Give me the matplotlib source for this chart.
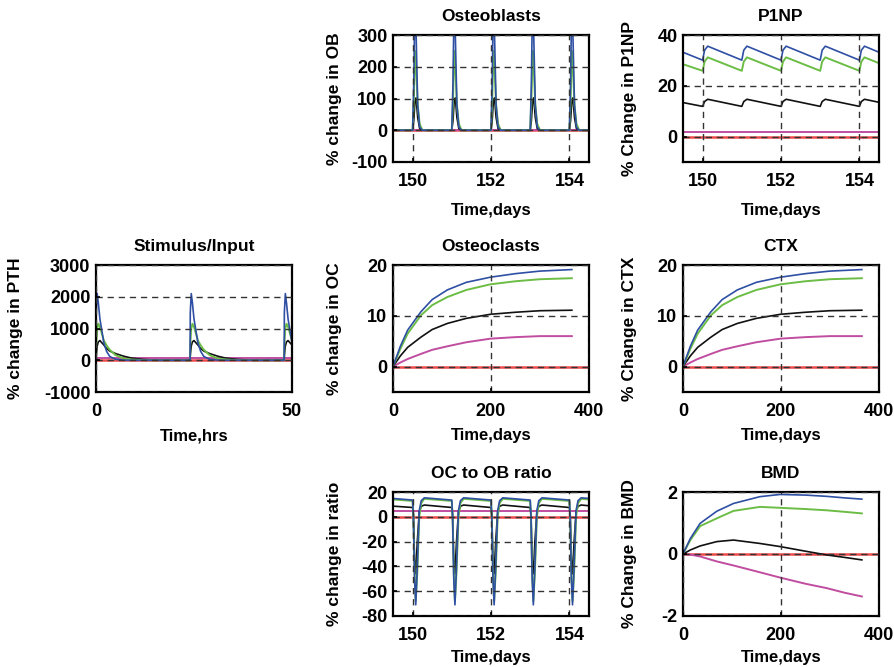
import matplotlib
matplotlib.use('Agg')
import matplotlib.pyplot as plt
import numpy as np

plt.rcParams['font.family'] = ['Liberation Sans', 'DejaVu Sans']
plt.rcParams['font.weight'] = 'bold'
plt.rcParams['font.size'] = 12
plt.rcParams['axes.unicode_minus'] = False

blue = '#2e4fa3'
green = '#6cbd45'
black = '#111111'
magenta = '#c04da0'
red = '#ec4a4a'

# ---- Stimulus/Input (hours) ----
stim_t = [0, 0.05, 0.3, 0.6, 1, 2, 2.7, 3.5, 5, 7, 9, 12, 16, 20, 23.95,
          24, 24.05, 24.3, 24.6, 25, 26, 26.7, 27.5, 29, 31, 33, 36, 40, 44, 47.95,
          48, 48.05, 48.3, 48.6, 49, 50]
stim_blue = [0, 1500, 2100, 1800, 1300, 550, 280, 120, 30, 5, 0, 0, 0, 0, 0,
             0, 1500, 2100, 1800, 1300, 550, 280, 120, 30, 5, 0, 0, 0, 0, 0,
             0, 1500, 2100, 1800, 1300, 550]
stim_green = [0, 500, 1000, 1150, 1050, 620, 470, 330, 160, 60, 25, 5, 0, 0, 0,
              0, 500, 1000, 1150, 1050, 620, 470, 330, 160, 60, 25, 5, 0, 0, 0,
              0, 500, 1000, 1150, 1050, 620]
stim_black = [0, 150, 450, 580, 620, 480, 370, 290, 210, 130, 70, 25, 0, 0, 0,
              0, 150, 450, 580, 620, 480, 370, 290, 210, 130, 70, 25, 0, 0, 0,
              0, 150, 450, 580, 620, 480]
stim_mag_t = [0, 50]
stim_mag = [80, 80]

# ---- Osteoblasts (days 149.5-154.5) ----
ob_t = [149.5,
        150.00, 150.03, 150.06, 150.09, 150.13, 150.18, 150.25,
        151.00, 151.03, 151.06, 151.09, 151.13, 151.18, 151.25,
        152.00, 152.03, 152.06, 152.09, 152.13, 152.18, 152.25,
        153.00, 153.03, 153.06, 153.09, 153.13, 153.18, 153.25,
        154.00, 154.03, 154.06, 154.09, 154.13, 154.18, 154.25,
        154.5]
ob_blue = [0,
           0, 150, 420, 300, 80, 10, 0,
           0, 150, 420, 300, 80, 10, 0,
           0, 150, 420, 300, 80, 10, 0,
           0, 150, 420, 300, 80, 10, 0,
           0, 150, 420, 300, 80, 10, 0,
           0]
ob_green = [0,
            0, 90, 250, 200, 80, 20, 0,
            0, 90, 250, 200, 80, 20, 0,
            0, 90, 250, 200, 80, 20, 0,
            0, 90, 250, 200, 80, 20, 0,
            0, 90, 250, 200, 80, 20, 0,
            0]
ob_black = [0,
            0, 30, 90, 102, 40, 5, 0,
            0, 30, 90, 102, 40, 5, 0,
            0, 30, 90, 102, 40, 5, 0,
            0, 30, 90, 102, 40, 5, 0,
            0, 30, 90, 102, 40, 5, 0,
            0]
ob_mag_t = [149.5, 154.5]
ob_mag = [2, 2]

# ---- P1NP ----
p1np_t = [149.5,
          150.0, 150.05, 150.13,
          151.0, 151.05, 151.13,
          152.0, 152.05, 152.13,
          153.0, 153.05, 153.13,
          154.0, 154.05, 154.13,
          154.5]
p1np_blue = [33.2, 30.1, 34.0, 35.6, 30.1, 34.0, 35.6, 30.1, 34.0, 35.6,
             30.1, 34.0, 35.6, 30.1, 34.0, 35.6, 33.2]
p1np_green = [28.5, 25.9, 29.5, 31.2, 25.9, 29.5, 31.2, 25.9, 29.5, 31.2,
              25.9, 29.5, 31.2, 25.9, 29.5, 31.2, 28.9]
p1np_black = [13.4, 11.9, 13.8, 14.7, 11.9, 13.8, 14.7, 11.9, 13.8, 14.7,
              11.9, 13.8, 14.7, 11.9, 13.8, 14.7, 13.5]
p1np_mag_t = [149.5, 154.5]
p1np_mag = [1.7, 1.7]

# ---- Osteoclasts / CTX (days 0-365) ----
long_t = [0, 15, 30, 57, 80, 111, 150, 199, 250, 300, 365]
oc_blue = [0, 4.0, 7.2, 10.8, 13.2, 15.1, 16.6, 17.6, 18.3, 18.8, 19.1]
oc_green = [0, 3.5, 6.5, 10.1, 12.1, 13.7, 15.1, 16.2, 16.8, 17.2, 17.4]
oc_black = [0, 2.1, 3.8, 5.8, 7.3, 8.5, 9.5, 10.3, 10.7, 11.0, 11.1]
oc_mag = [0, 0.8, 1.5, 2.5, 3.3, 4.0, 4.8, 5.5, 5.8, 6.0, 6.0]

ctx_blue = [0, 4.0, 7.2, 10.8, 13.2, 15.1, 16.6, 17.6, 18.3, 18.8, 19.1]
ctx_green = [0, 3.5, 6.5, 10.1, 12.1, 13.7, 15.1, 16.2, 16.8, 17.2, 17.4]
ctx_black = [0, 2.1, 3.8, 5.8, 7.3, 8.5, 9.5, 10.3, 10.7, 11.0, 11.1]
ctx_mag = [0, 0.8, 1.5, 2.5, 3.3, 4.0, 4.8, 5.5, 5.8, 6.0, 6.0]

# ---- OC to OB ratio ----
ratio_t = [149.5,
           150.00, 150.02, 150.05, 150.08, 150.12, 150.17, 150.22, 150.30,
           151.00, 151.02, 151.05, 151.08, 151.12, 151.17, 151.22, 151.30,
           152.00, 152.02, 152.05, 152.08, 152.12, 152.17, 152.22, 152.30,
           153.00, 153.02, 153.05, 153.08, 153.12, 153.17, 153.22, 153.30,
           154.00, 154.02, 154.05, 154.08, 154.12, 154.17, 154.22, 154.30,
           154.5]
ratio_blue = [14.8,
              13.5, 0, -50, -71, -40, 5, 13, 15.3,
              13.5, 0, -50, -71, -40, 5, 13, 15.3,
              13.5, 0, -50, -71, -40, 5, 13, 15.3,
              13.5, 0, -50, -71, -40, 5, 13, 15.3,
              13.5, 0, -50, -71, -40, 5, 13, 15.3,
              14.8]
ratio_green = [14.0,
               12.8, 0, -45, -68, -45, 0, 11, 14.5,
               12.8, 0, -45, -68, -45, 0, 11, 14.5,
               12.8, 0, -45, -68, -45, 0, 11, 14.5,
               12.8, 0, -45, -68, -45, 0, 11, 14.5,
               12.8, 0, -45, -68, -45, 0, 11, 14.5,
               14.0]
ratio_black = [8.6,
               7.5, 2, -35, -46, -20, 4, 8.5, 9.5,
               7.5, 2, -35, -46, -20, 4, 8.5, 9.5,
               7.5, 2, -35, -46, -20, 4, 8.5, 9.5,
               7.5, 2, -35, -46, -20, 4, 8.5, 9.5,
               7.5, 2, -35, -46, -20, 4, 8.5, 9.5,
               8.9]
ratio_mag_t = [149.5, 154.5]
ratio_mag = [4.3, 4.3]

# ---- BMD ----
bmd_t = [0, 15, 35, 69, 103, 157, 198, 250, 293, 330, 365]
bmd_blue = [0, 0.5, 0.99, 1.38, 1.63, 1.85, 1.92, 1.90, 1.86, 1.81, 1.77]
bmd_green = [0, 0.45, 0.9, 1.15, 1.39, 1.52, 1.49, 1.45, 1.41, 1.36, 1.31]
bmd_black = [0, 0.13, 0.26, 0.40, 0.45, 0.34, 0.24, 0.09, -0.03, -0.11, -0.19]
bmd_mag = [0, -0.02, -0.08, -0.24, -0.37, -0.59, -0.76, -0.96, -1.10, -1.25, -1.37]


fig = plt.figure(figsize=(8.94, 6.67), dpi=100)

cols = [96 / 894, 393 / 894, 683 / 894]
w = 196 / 894
rows = [(1 - 162 / 667, 127 / 667), (1 - 392 / 667, 127 / 667), (1 - 616 / 667, 124 / 667)]


def make_ax(r, c, title, ylab, xlab, xlim, ylim, xticks, yticks, ylab_x, xlabpad):
    ax = fig.add_axes([cols[c], rows[r][0], w, rows[r][1]])
    ax.set_xlim(xlim)
    ax.set_ylim(ylim)
    ax.set_xticks(xticks)
    ax.set_yticks(yticks)
    ax.set_title(title, fontweight='bold', fontsize=12.5, pad=10)
    ax.set_xlabel(xlab, fontweight='bold', fontsize=12, labelpad=xlabpad)
    ax.set_ylabel(ylab, fontweight='bold', fontsize=12.5)
    ax.yaxis.set_label_coords(ylab_x, 0.5)
    ax.tick_params(direction='in', length=3, width=1.2, labelsize=13)
    ax.tick_params(axis='x', pad=8)
    ax.tick_params(axis='y', pad=4)
    for s in ax.spines.values():
        s.set_linewidth(1.6)
    ax.set_axisbelow(False)
    ax.grid(True, color='#333333', linestyle=(0, (4.5, 3.5)), linewidth=1.0)
    return ax


def draw(ax, t, b, g, k, mt, m):
    ax.axhline(0, color=red, lw=1.8, zorder=1.5)
    ax.plot(mt, m, color=magenta, lw=1.4)
    ax.plot(t, k, color=black, lw=1.2)
    ax.plot(t, g, color=green, lw=1.4)
    ax.plot(t, b, color=blue, lw=1.2)


# Osteoblasts
ax = make_ax(0, 1, 'Osteoblasts', '% change in OB', 'Time,days', (149.5, 154.5), (-100, 300),
             [150, 152, 154], [-100, 0, 100, 200, 300], -0.262, 9)
draw(ax, ob_t, ob_blue, ob_green, ob_black, ob_mag_t, ob_mag)

# P1NP
ax = make_ax(0, 2, 'P1NP', '% Change in P1NP', 'Time,days', (149.5, 154.5), (-10, 40),
             [150, 152, 154], [0, 20, 40], -0.236, 9)
draw(ax, p1np_t, p1np_blue, p1np_green, p1np_black, p1np_mag_t, p1np_mag)

# Stimulus
ax = make_ax(1, 0, 'Stimulus/Input', '% change in PTH', 'Time,hrs', (0, 50), (-1000, 3000),
             [0, 50], [-1000, 0, 1000, 2000, 3000], -0.371, 6)
draw(ax, stim_t, stim_blue, stim_green, stim_black, stim_mag_t, stim_mag)

# Osteoclasts
ax = make_ax(1, 1, 'Osteoclasts', '% change in OC', 'Time,days', (0, 400), (-5, 20),
             [0, 200, 400], [0, 10, 20], -0.262, 6)
draw(ax, long_t, oc_blue, oc_green, oc_black, long_t, oc_mag)

# CTX
ax = make_ax(1, 2, 'CTX', '% Change in CTX', 'Time,days', (0, 400), (-5, 20),
             [0, 200, 400], [0, 10, 20], -0.236, 6)
draw(ax, long_t, ctx_blue, ctx_green, ctx_black, long_t, ctx_mag)

# OC to OB ratio
ax = make_ax(2, 1, 'OC to OB ratio', '% change in ratio', 'Time,days', (149.5, 154.5), (-80, 20),
             [150, 152, 154], [-80, -60, -40, -20, 0, 20], -0.262, 4)
draw(ax, ratio_t, ratio_blue, ratio_green, ratio_black, ratio_mag_t, ratio_mag)

# BMD
ax = make_ax(2, 2, 'BMD', '% Change in BMD', 'Time,days', (0, 400), (-2, 2),
             [0, 200, 400], [-2, 0, 2], -0.236, 4)
draw(ax, bmd_t, bmd_blue, bmd_green, bmd_black, bmd_t, bmd_mag)

fig.savefig('out.png', dpi=100)
